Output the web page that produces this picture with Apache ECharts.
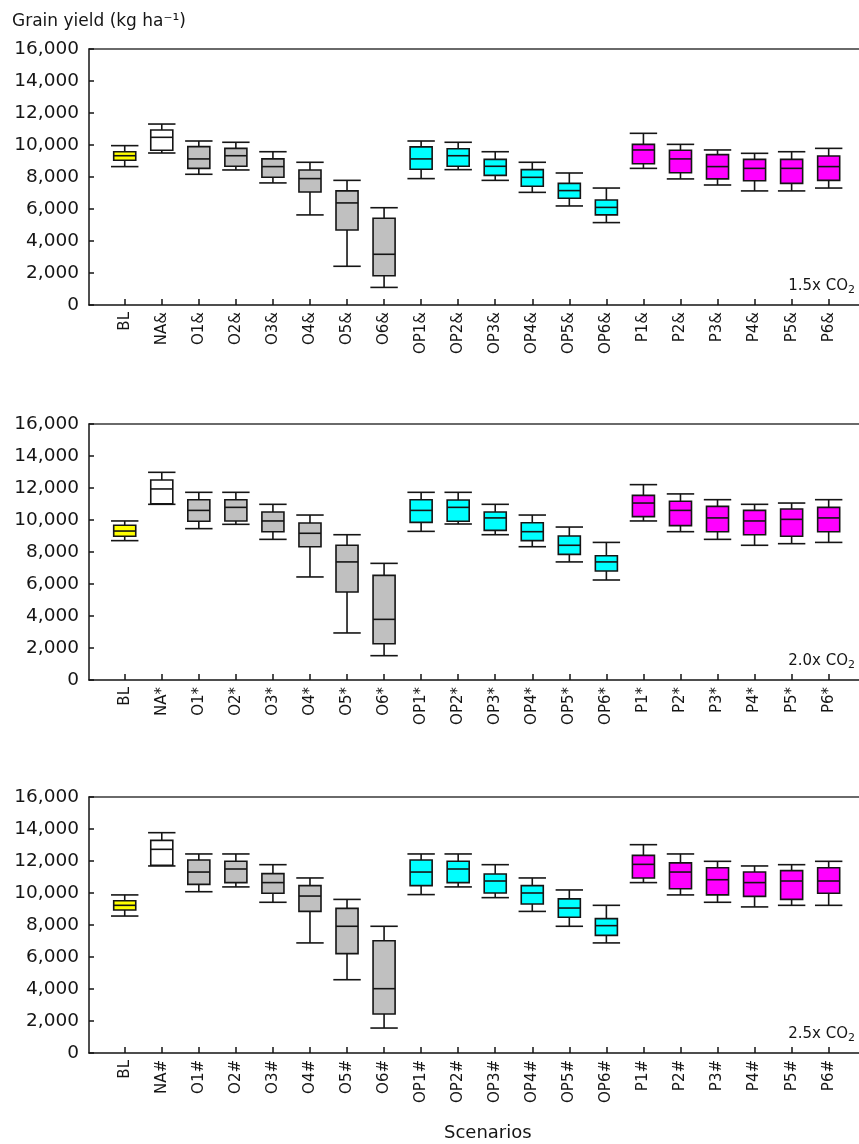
<!DOCTYPE html>
<html>
<head>
<meta charset="utf-8">
<script src="https://cdn.jsdelivr.net/npm/echarts@6/dist/echarts.min.js"></script>
<style>
  html, body { margin: 0; padding: 0; background: #fff; }
  #chart { width: 859px; height: 1144px; }
</style>
</head>
<body>
<div id="chart"></div>
<script>
// ---------------- DATA ----------------
const catsP1 = ['BL','NA&','O1&','O2&','O3&','O4&','O5&','O6&','OP1&','OP2&','OP3&','OP4&','OP5&','OP6&','P1&','P2&','P3&','P4&','P5&','P6&'];
const catsP2 = ['BL','NA*','O1*','O2*','O3*','O4*','O5*','O6*','OP1*','OP2*','OP3*','OP4*','OP5*','OP6*','P1*','P2*','P3*','P4*','P5*','P6*'];
const catsP3 = ['BL','NA#','O1#','O2#','O3#','O4#','O5#','O6#','OP1#','OP2#','OP3#','OP4#','OP5#','OP6#','P1#','P2#','P3#','P4#','P5#','P6#'];

// [min, Q1, median, Q3, max]  (kg ha-1)
const yield15 = [
  [8650, 9050, 9330, 9580, 9960],
  [9500, 9670, 10480, 10940, 11310],
  [8170, 8540, 9130, 9900, 10250],
  [8440, 8670, 9330, 9790, 10170],
  [7630, 7980, 8650, 9130, 9580],
  [5630, 7060, 7900, 8440, 8920],
  [2420, 4690, 6380, 7130, 7790],
  [1100, 1830, 3170, 5420, 6080],
  [7900, 8480, 9130, 9880, 10250],
  [8460, 8670, 9330, 9770, 10170],
  [7790, 8100, 8670, 9100, 9580],
  [7040, 7420, 7980, 8460, 8920],
  [6190, 6670, 7150, 7600, 8250],
  [5150, 5630, 6100, 6560, 7310],
  [8540, 8830, 9690, 10040, 10730],
  [7880, 8270, 9130, 9670, 10040],
  [7500, 7880, 8650, 9400, 9690],
  [7130, 7770, 8540, 9100, 9480],
  [7130, 7600, 8540, 9100, 9580],
  [7310, 7790, 8650, 9310, 9790]
];
const yield20 = [
  [8710, 8980, 9310, 9670, 9940],
  [10980, 11020, 11940, 12500, 12980],
  [9460, 9920, 10600, 11270, 11730],
  [9730, 9940, 10790, 11270, 11730],
  [8790, 9270, 9940, 10500, 10980],
  [6440, 8330, 9170, 9810, 10310],
  [2940, 5500, 7380, 8420, 9080],
  [1520, 2270, 3790, 6540, 7290],
  [9290, 9850, 10600, 11270, 11730],
  [9750, 9920, 10790, 11250, 11730],
  [9080, 9350, 10130, 10500, 10980],
  [8330, 8710, 9270, 9830, 10310],
  [7380, 7850, 8420, 9000, 9560],
  [6250, 6810, 7380, 7770, 8600],
  [9940, 10210, 11060, 11540, 12210],
  [9270, 9650, 10600, 11170, 11630],
  [8790, 9270, 10130, 10850, 11270],
  [8420, 9080, 9940, 10600, 10980],
  [8520, 8980, 10040, 10690, 11060],
  [8600, 9270, 10130, 10790, 11270]
];
const yield25 = [
  [8560, 8940, 9230, 9520, 9880],
  [11690, 11730, 12730, 13290, 13770],
  [10080, 10540, 11310, 12060, 12440],
  [10380, 10650, 11500, 11980, 12440],
  [9420, 9980, 10650, 11210, 11770],
  [6880, 8850, 9810, 10460, 10940],
  [4580, 6210, 7920, 9040, 9600],
  [1560, 2440, 4020, 7020, 7920],
  [9900, 10460, 11310, 12060, 12440],
  [10380, 10650, 11500, 11980, 12440],
  [9710, 10000, 10750, 11190, 11770],
  [8850, 9310, 10000, 10460, 10940],
  [7920, 8480, 9060, 9630, 10190],
  [6880, 7350, 7960, 8400, 9230],
  [10650, 10940, 11790, 12350, 13020],
  [9880, 10270, 11310, 11880, 12440],
  [9420, 9880, 10830, 11580, 11980],
  [9130, 9790, 10650, 11310, 11690],
  [9230, 9600, 10750, 11400, 11770],
  [9230, 9980, 10750, 11580, 11980]
];

const yTickLabels = ['0','2,000','4,000','6,000','8,000','10,000','12,000','14,000','16,000'];
const panelLabels = ['1.5x CO{s|2}', '2.0x CO{s|2}', '2.5x CO{s|2}'];
const yAxisTitle = 'Grain yield (kg ha\u207B\u00B9)';
const xAxisTitle = 'Scenarios';

// ---------------- STYLE / LAYOUT ----------------
const FONT = 'DejaVu Sans';
const INK = '#151515';
const panelTops = [49, 424, 797];
const PANEL_H = 256;

function fillFor(name) {
  if (name.startsWith('BL')) return '#ffff00';
  if (name.startsWith('NA')) return '#ffffff';
  if (name.startsWith('OP')) return '#00ffff';
  if (name.startsWith('O')) return '#c0c0c0';
  if (name.startsWith('P')) return '#ff00ff';
  return '#cccccc';
}

const panels = [
  { cats: catsP1, data: yield15 },
  { cats: catsP2, data: yield20 },
  { cats: catsP3, data: yield25 }
];

const grid = [], xAxis = [], yAxis = [], series = [], title = [];

title.push({
  text: yAxisTitle, left: 12, top: 13, padding: 0,
  textStyle: { fontFamily: FONT, fontSize: 17, fontWeight: 'normal', color: INK }
});
title.push({
  text: xAxisTitle, left: 444, top: 1124, padding: 0,
  textStyle: { fontFamily: FONT, fontSize: 18, fontWeight: 'normal', color: INK }
});

panels.forEach((p, k) => {
  const top = panelTops[k];
  // frame grid (A)
  grid.push({ left: 89, right: 0, top: top, height: PANEL_H });
  // box grid (B)
  grid.push({ left: 106.2, width: 741, top: top, height: PANEL_H });
  const gA = 2 * k, gB = 2 * k + 1;

  // A bottom axis line
  xAxis.push({
    gridIndex: gA, type: 'value', min: 0, max: 1, position: 'bottom',
    axisLine: { show: true, lineStyle: { color: INK, width: 1.5 } },
    axisTick: { show: false }, axisLabel: { show: false }, splitLine: { show: false }
  });
  // A top line
  xAxis.push({
    gridIndex: gA, type: 'value', min: 0, max: 1, position: 'top',
    axisLine: { show: true, lineStyle: { color: '#3a3a3a', width: 1.5 } },
    axisTick: { show: false }, axisLabel: { show: false }, splitLine: { show: false }
  });
  // B category axis
  xAxis.push({
    gridIndex: gB, type: 'category', data: p.cats, position: 'bottom',
    boundaryGap: true,
    axisLine: { show: false },
    axisTick: { show: true, inside: true, length: 6, alignWithLabel: true, lineStyle: { color: INK, width: 1.5 } },
    axisLabel: { rotate: 90, margin: 7, interval: 0, fontFamily: FONT, fontSize: 15, color: INK },
    splitLine: { show: false }
  });

  yAxis.push({
    gridIndex: gA, type: 'value', min: 0, max: 16000, interval: 2000,
    axisLine: { show: true, lineStyle: { color: INK, width: 1.5 } },
    axisTick: { show: true, inside: true, length: 5, lineStyle: { color: INK, width: 1.5 } },
    axisLabel: {
      margin: 10, fontFamily: FONT, fontSize: 18.5, color: INK,
      formatter: v => yTickLabels[Math.round(v / 2000)]
    },
    splitLine: { show: false }
  });
  yAxis.push({
    gridIndex: gB, type: 'value', min: 0, max: 16000, interval: 2000,
    show: false, splitLine: { show: false }
  });

  const cats = p.cats;
  series.push({
    type: 'custom',
    xAxisIndex: 3 * k + 2,
    yAxisIndex: 2 * k + 1,
    data: p.data.map((d, i) => [i].concat(d)),
    encode: { x: 0, y: [1, 2, 3, 4, 5] },
    renderItem: function (params, api) {
      const idx = api.value(0);
      const lo = api.coord([idx, api.value(1)]);
      const q1 = api.coord([idx, api.value(2)]);
      const md = api.coord([idx, api.value(3)]);
      const q3 = api.coord([idx, api.value(4)]);
      const hi = api.coord([idx, api.value(5)]);
      const band = api.size([1, 0])[0];
      const bw = band * 0.595, cw = band * 0.74;
      const x = lo[0];
      const ls = { stroke: INK, lineWidth: 1.6, fill: null };
      return {
        type: 'group',
        children: [
          { type: 'line', shape: { x1: x, y1: hi[1], x2: x, y2: q3[1] }, style: ls },
          { type: 'line', shape: { x1: x, y1: q1[1], x2: x, y2: lo[1] }, style: ls },
          { type: 'line', shape: { x1: x - cw / 2, y1: hi[1], x2: x + cw / 2, y2: hi[1] }, style: ls },
          { type: 'line', shape: { x1: x - cw / 2, y1: lo[1], x2: x + cw / 2, y2: lo[1] }, style: ls },
          { type: 'rect', shape: { x: x - bw / 2, y: q3[1], width: bw, height: q1[1] - q3[1] },
            style: { fill: fillFor(cats[idx]), stroke: INK, lineWidth: 1.6 } },
          { type: 'line', shape: { x1: x - bw / 2, y1: md[1], x2: x + bw / 2, y2: md[1] }, style: ls }
        ]
      };
    }
  });

  title.push({
    text: panelLabels[k], right: 4, top: top + PANEL_H - 28, padding: 0,
    textStyle: {
      fontFamily: FONT, fontSize: 15, fontWeight: 'normal', color: INK, lineHeight: 19,
      rich: { s: { fontFamily: FONT, fontSize: 11, color: INK, lineHeight: 11, verticalAlign: 'bottom' } }
    }
  });
});

const chart = echarts.init(document.getElementById('chart'), null, { renderer: 'canvas' });
chart.setOption({
  animation: false,
  backgroundColor: '#ffffff',
  title: title,
  grid: grid,
  xAxis: xAxis,
  yAxis: yAxis,
  series: series
});
</script>
</body>
</html>
